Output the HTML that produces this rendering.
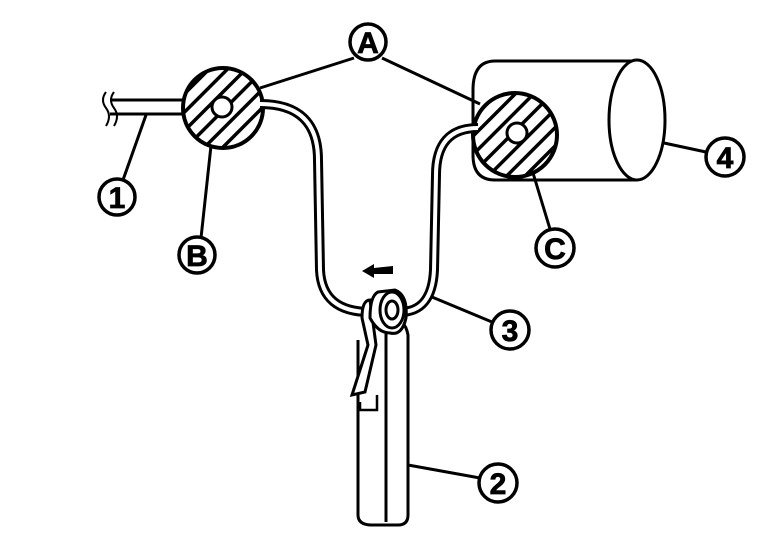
<!DOCTYPE html>
<html><head><style>body{margin:0;background:#fff}svg{display:block}text{font-family:"Liberation Sans",sans-serif;font-weight:bold;text-anchor:middle}</style></head><body>
<svg width="768" height="544" viewBox="0 0 768 544" xmlns="http://www.w3.org/2000/svg">
<defs>
<pattern id="h" width="13" height="13" patternUnits="userSpaceOnUse" patternTransform="rotate(45)">
<rect width="13" height="13" fill="#fff"/><rect width="3.5" height="13" fill="#000"/></pattern>
</defs>
<g fill="none" stroke="#000" stroke-width="3">
<path d="M637 61 L495 61 Q473 61 473 90 L473 155 Q473 180 495 180 L637 180"/>
<ellipse cx="637" cy="120" rx="28" ry="60" fill="#fff"/>
<line x1="260" y1="88" x2="354" y2="58"/>
<line x1="382" y1="58" x2="480" y2="104"/>
<line x1="146" y1="115" x2="123" y2="180"/>
<line x1="214" y1="118" x2="201" y2="238"/>
<line x1="523" y1="140" x2="550" y2="229"/>
<line x1="664" y1="143" x2="706" y2="152"/>
<line x1="432" y1="297" x2="492" y2="322"/>
<line x1="408" y1="465" x2="480" y2="478"/>
<path d="M110 100 L185 100 M110 114 L185 114"/>
<path d="M106 92 Q100 100 106 108 Q112 116 106 126 M114 92 Q108 100 114 108 Q120 116 114 126" stroke-width="2"/>
<circle cx="223" cy="108" r="40" fill="url(#h)" stroke-width="4"/>
<circle cx="515" cy="135" r="42" fill="url(#h)" stroke-width="4"/>
<circle cx="222" cy="107" r="10" fill="#fff"/>
<circle cx="517" cy="133" r="10" fill="#fff"/>
<path d="M260 104 Q318 104 318 160 L320 270 Q322 312 370 312 L400 312 Q432 312 434 270 L436 175 Q436 128 478 128" stroke-width="10"/>
<path d="M260 104 Q318 104 318 160 L320 270 Q322 312 370 312 L400 312 Q432 312 434 270 L436 175 Q436 128 478 128" stroke="#fff" stroke-width="4"/>
<path d="M358 340 L358 515 Q358 525 372 525 L398 525 Q408 525 408 515 L408 335 Q405 318 390 318" fill="#fff"/>
<line x1="386" y1="330" x2="386" y2="522"/>
<path d="M370 300 Q362 300 362 318 L368 345 L352 395 L365 392 L376 345 Z" fill="#fff"/>
<path d="M360 402 L360 410 L377 410 L377 395" fill="#fff" stroke-width="2.5"/>
<path d="M378 292 L395 290 Q408 295 406 318 Q402 336 390 333 Q378 333 370 318 Q370 296 378 292 Z" fill="#fff"/>
<ellipse cx="392" cy="310" rx="12" ry="18" fill="#fff"/>
<ellipse cx="392" cy="310" rx="6" ry="9"/>
<g stroke-width="3.5">
<circle cx="368" cy="42" r="18"/>
<circle cx="117" cy="197" r="18"/>
<circle cx="197" cy="255" r="18"/>
<circle cx="555" cy="248" r="19"/>
<circle cx="725" cy="157" r="19"/>
<circle cx="510" cy="330" r="19"/>
<circle cx="498" cy="483" r="19"/>
</g>
</g>
<path d="M362 271 L374 264 L374 268 L393 266 L393 274 L374 274 L374 278 Z" fill="#000"/>
<g font-size="30" stroke="#000" stroke-width="0.8">
<text x="368" y="53">A</text>
<text x="117" y="208">1</text>
<text x="197" y="266">B</text>
<text x="555" y="259">C</text>
<text x="725" y="168">4</text>
<text x="510" y="341">3</text>
<text x="498" y="494">2</text>
</g>
</svg>
</body></html>
